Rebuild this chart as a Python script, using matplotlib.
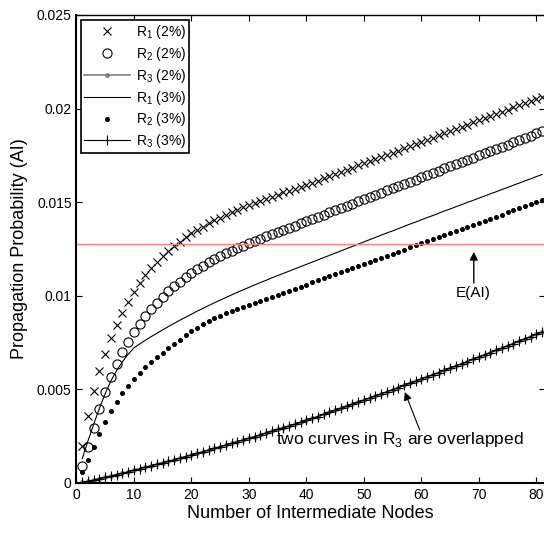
import numpy as np
import matplotlib
matplotlib.use('Agg')
import matplotlib.pyplot as plt

plt.rcParams['font.family'] = ['Liberation Sans', 'DejaVu Sans']
plt.rcParams['mathtext.fontset'] = 'custom'
plt.rcParams['mathtext.rm'] = 'Liberation Sans'

# number of intermediate nodes
nodes = list(range(1, 82))

# R1 (2%)  -- x markers
r1_2 = [0.00200, 0.00360, 0.00490, 0.00598, 0.00690, 0.00772, 0.00845, 0.00910, 0.00968, 0.01020,
        0.01067, 0.01109, 0.01147, 0.01181, 0.01212, 0.01240, 0.01266, 0.01290, 0.01312, 0.01333,
        0.01352, 0.01370, 0.01387, 0.01403, 0.01418, 0.01432, 0.01446, 0.01459, 0.01472, 0.01484,
        0.01496, 0.01508, 0.01519, 0.01530, 0.01541, 0.01552, 0.01562, 0.01572, 0.01582, 0.01592,
        0.01604, 0.01615, 0.01627, 0.01638, 0.01650, 0.01661, 0.01673, 0.01684, 0.01696, 0.01707,
        0.01719, 0.01730, 0.01742, 0.01753, 0.01765, 0.01776, 0.01788, 0.01799, 0.01811, 0.01822,
        0.01834, 0.01845, 0.01857, 0.01868, 0.01880, 0.01891, 0.01903, 0.01914, 0.01926, 0.01937,
        0.01949, 0.01960, 0.01972, 0.01983, 0.01995, 0.02006, 0.02018, 0.02029, 0.02041, 0.02052,
        0.02064]

# R2 (2%)  -- circles
r2_2 = [0.00090, 0.00190, 0.00295, 0.00395, 0.00485, 0.00568, 0.00638, 0.00700, 0.00755, 0.00805,
        0.00850, 0.00891, 0.00929, 0.00963, 0.00995, 0.01024, 0.01051, 0.01076, 0.01099, 0.01121,
        0.01141, 0.01160, 0.01178, 0.01195, 0.01211, 0.01226, 0.01241, 0.01255, 0.01268, 0.01281,
        0.01293, 0.01305, 0.01317, 0.01329, 0.01340, 0.01352, 0.01364, 0.01375, 0.01387, 0.01399,
        0.01410, 0.01422, 0.01434, 0.01446, 0.01457, 0.01469, 0.01481, 0.01492, 0.01504, 0.01516,
        0.01527, 0.01539, 0.01551, 0.01563, 0.01574, 0.01586, 0.01598, 0.01609, 0.01621, 0.01633,
        0.01644, 0.01656, 0.01668, 0.01680, 0.01691, 0.01703, 0.01715, 0.01726, 0.01738, 0.01750,
        0.01761, 0.01773, 0.01785, 0.01797, 0.01808, 0.01820, 0.01832, 0.01843, 0.01855, 0.01867,
        0.01878]

# R1 (3%)  -- solid line
r1_3 = [0.00130, 0.00225, 0.00315, 0.00400, 0.00478, 0.00546, 0.00602, 0.00648, 0.00688, 0.00722,
        0.00743, 0.00763, 0.00782, 0.00800, 0.00818, 0.00836, 0.00853, 0.00870, 0.00886, 0.00902,
        0.00918, 0.00933, 0.00948, 0.00963, 0.00977, 0.00991, 0.01005, 0.01019, 0.01032, 0.01045,
        0.01058, 0.01071, 0.01083, 0.01096, 0.01108, 0.01120, 0.01132, 0.01144, 0.01156, 0.01168,
        0.01180, 0.01192, 0.01204, 0.01216, 0.01228, 0.01240, 0.01252, 0.01264, 0.01276, 0.01288,
        0.01300, 0.01312, 0.01324, 0.01336, 0.01347, 0.01359, 0.01371, 0.01383, 0.01394, 0.01406,
        0.01418, 0.01429, 0.01441, 0.01453, 0.01464, 0.01476, 0.01487, 0.01499, 0.01510, 0.01522,
        0.01533, 0.01545, 0.01556, 0.01568, 0.01579, 0.01591, 0.01602, 0.01614, 0.01625, 0.01637,
        0.01648]

# R2 (3%)  -- dots
r2_3 = [0.00060, 0.00125, 0.00193, 0.00260, 0.00325, 0.00384, 0.00434, 0.00480, 0.00518, 0.00554,
        0.00588, 0.00619, 0.00647, 0.00672, 0.00696, 0.00720, 0.00743, 0.00766, 0.00788, 0.00810,
        0.00830, 0.00848, 0.00864, 0.00879, 0.00893, 0.00906, 0.00918, 0.00930, 0.00941, 0.00952,
        0.00962, 0.00972, 0.00983, 0.00994, 0.01005, 0.01016, 0.01027, 0.01038, 0.01049, 0.01060,
        0.01071, 0.01082, 0.01093, 0.01104, 0.01115, 0.01126, 0.01137, 0.01148, 0.01159, 0.01170,
        0.01181, 0.01192, 0.01203, 0.01214, 0.01225, 0.01236, 0.01247, 0.01258, 0.01269, 0.01280,
        0.01291, 0.01302, 0.01313, 0.01324, 0.01335, 0.01346, 0.01357, 0.01368, 0.01379, 0.01390,
        0.01401, 0.01412, 0.01423, 0.01434, 0.01445, 0.01456, 0.01467, 0.01478, 0.01489, 0.01500,
        0.01511]

# R3 (2%) and R3 (3%) -- overlapped curves
r3 = [0.00003, 0.00009, 0.00016, 0.00023, 0.00030, 0.00037, 0.00045, 0.00052, 0.00060, 0.00068,
      0.00076, 0.00084, 0.00092, 0.00100, 0.00108, 0.00116, 0.00124, 0.00133, 0.00141, 0.00150,
      0.00158, 0.00167, 0.00176, 0.00185, 0.00194, 0.00203, 0.00212, 0.00221, 0.00230, 0.00239,
      0.00248, 0.00257, 0.00267, 0.00276, 0.00286, 0.00295, 0.00305, 0.00314, 0.00324, 0.00334,
      0.00345, 0.00355, 0.00366, 0.00377, 0.00388, 0.00399, 0.00410, 0.00421, 0.00432, 0.00443,
      0.00454, 0.00465, 0.00476, 0.00487, 0.00499, 0.00510, 0.00521, 0.00533, 0.00544, 0.00556,
      0.00567, 0.00579, 0.00590, 0.00602, 0.00614, 0.00626, 0.00637, 0.00649, 0.00661, 0.00673,
      0.00685, 0.00697, 0.00709, 0.00721, 0.00733, 0.00745, 0.00758, 0.00770, 0.00782, 0.00795,
      0.00807]

e_ai = 0.01275

fig = plt.figure(figsize=(5.44, 5.35), dpi=100)
ax = fig.add_axes([0.1406, 0.0972, 0.8614, 0.8748])

ax.plot(nodes, r1_2, 'x', color='black', markersize=5.5, markeredgewidth=0.8, label='R$_1$ (2%)')
ax.plot(nodes, r2_2, 'o', color='black', markerfacecolor='none', markersize=6.6, markeredgewidth=0.8, label='R$_2$ (2%)')
ax.plot(nodes, r3, '-o', color='#808080', markersize=2.5, linewidth=1.2, label='R$_3$ (2%)')
ax.plot(nodes, r1_3, '-', color='black', linewidth=0.8, label='R$_1$ (3%)')
ax.plot(nodes, r2_3, 'o', color='black', markersize=2.6, label='R$_2$ (3%)')
ax.plot(nodes, r3, '-+', color='black', markersize=7, linewidth=0.8, markeredgewidth=0.8, label='R$_3$ (3%)')

ax.axhline(e_ai, color='#ff8080', linewidth=1.0)

ax.annotate('', xy=(69.1, 0.01235), xytext=(69.1, 0.01068),
            arrowprops=dict(arrowstyle='-|>', color='black', lw=1, mutation_scale=12, shrinkA=0, shrinkB=0))
ax.text(69.0, 0.01015, 'E(AI)', ha='center', va='center', fontsize=11)
ax.annotate('', xy=(57.1, 0.00486), xytext=(59.7, 0.00283),
            arrowprops=dict(arrowstyle='-|>', color='black', lw=0.8, mutation_scale=12, shrinkA=0, shrinkB=0))
ax.text(56.2, 0.00232, 'two curves in R$_3$ are overlapped', ha='center', va='center', fontsize=12.5)

ax.set_xlim(0, 81.5)
ax.set_ylim(0, 0.025)
ax.set_xticks(np.arange(0, 81, 10))
ax.set_yticks([0, 0.005, 0.01, 0.015, 0.02, 0.025])
ax.set_yticklabels(['0', '0.005', '0.01', '0.015', '0.02', '0.025'])
ax.tick_params(direction='in', top=True, right=True, labelsize=10, length=4, width=0.8)
for s in ax.spines.values():
    s.set_linewidth(1.5)
ax.spines['top'].set_linewidth(1.0)

ax.set_xlabel('Number of Intermediate Nodes', fontsize=13, labelpad=2)
ax.set_ylabel('Propagation Probability (AI)', fontsize=13, labelpad=6)

leg = ax.legend(loc='upper left', bbox_to_anchor=(0.0096, 0.989), borderaxespad=0, fontsize=10,
                fancybox=False, framealpha=1, edgecolor='black', handlelength=3.3, handletextpad=0.45,
                labelspacing=0.28, borderpad=0.2)
leg.get_frame().set_linewidth(1.2)

fig.savefig('out.png', dpi=100)
